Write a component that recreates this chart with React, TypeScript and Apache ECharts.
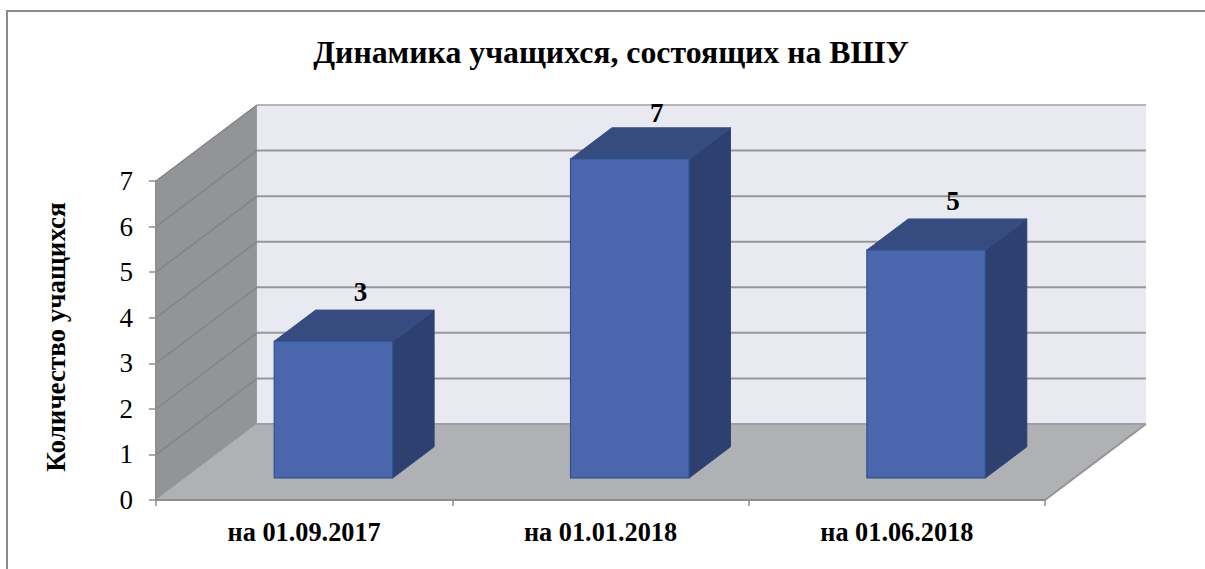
import React, { useEffect, useRef } from "react";
import * as echarts from "echarts";

const titleText = "Динамика учащихся, состоящих на ВШУ";
const yAxisTitle = "Количество учащихся";
const categories = ["на 01.09.2017", "на 01.01.2018", "на 01.06.2018"];
const values = [3, 7, 5];
const gridValues = [1, 2, 3, 4, 5, 6, 7];

const FONT = "'Liberation Serif', 'Times New Roman', serif";
// Oblique projection of the chart's depth, in pixels.
const DEPTH_X = 101;
const DEPTH_Y = 76;
const BAR_NEAR = 0.29;
const BAR_FAR = 0.7;
const BAR_WIDTH_RATIO = 0.4;

const renderWalls = (params: any, api: any) => {
  const r = params.coordSys;
  const x0 = r.x;
  const x1 = r.x + r.width;
  const top = r.y;
  const bot = r.y + r.height;
  const children: any[] = [
    {
      type: "polygon",
      shape: { points: [[x0, bot], [x0, top], [x0 + DEPTH_X, top - DEPTH_Y], [x0 + DEPTH_X, bot - DEPTH_Y]] },
      style: { fill: "#939497", stroke: "#a3a4a6", lineWidth: 1 },
    },
    {
      type: "rect",
      shape: { x: x0 + DEPTH_X, y: top - DEPTH_Y, width: r.width, height: r.height },
      style: { fill: "#E8E9F1" },
    },
    {
      type: "polygon",
      shape: { points: [[x0, bot], [x1, bot], [x1 + DEPTH_X, bot - DEPTH_Y], [x0 + DEPTH_X, bot - DEPTH_Y]] },
      style: { fill: "#B0B1B5" },
    },
    {
      type: "line",
      shape: { x1: x1, y1: bot, x2: x1 + DEPTH_X, y2: bot - DEPTH_Y },
      style: { stroke: "#949494", lineWidth: 2 },
    },
    {
      type: "line",
      shape: { x1: x0 + DEPTH_X, y1: bot - DEPTH_Y, x2: x1 + DEPTH_X, y2: bot - DEPTH_Y },
      style: { stroke: "#a0a0a2", lineWidth: 2 },
    },
  ];
  gridValues.forEach((v) => {
    const y = api.coord([0, v])[1];
    children.push({
      type: "line",
      shape: { x1: x0, y1: y, x2: x0 + DEPTH_X, y2: y - DEPTH_Y },
      style: { stroke: "#808184", lineWidth: 1.2 },
    });
    children.push({
      type: "line",
      shape: { x1: x0 + DEPTH_X, y1: y - DEPTH_Y, x2: x1 + DEPTH_X, y2: y - DEPTH_Y },
      style: { stroke: v === 7 ? "#b4b4b6" : "#97979a", lineWidth: 2 },
    });
  });
  return { type: "group", children };
};

const renderBar = (_params: any, api: any) => {
  const idx = api.value(0);
  const val = api.value(1);
  const band = api.size([1, 0])[0];
  const [cx, yTop0] = api.coord([idx, val]);
  const yBot0 = api.coord([idx, 0])[1];
  const w = band * BAR_WIDTH_RATIO;
  const nx = DEPTH_X * BAR_NEAR;
  const ny = DEPTH_Y * BAR_NEAR;
  const fx = DEPTH_X * BAR_FAR;
  const fy = DEPTH_Y * BAR_FAR;
  const l = cx - w / 2 + nx;
  const r = cx + w / 2 + nx;
  const t = yTop0 - ny;
  const b = yBot0 - ny;
  const dx = fx - nx;
  const dy = fy - ny;
  const edge = "#2F528F";
  return {
    type: "group",
    children: [
      {
        type: "polygon",
        shape: { points: [[r, t], [r + dx, t - dy], [r + dx, b - dy], [r, b]] },
        style: { fill: "#2E4070", stroke: "#2F4476", lineWidth: 1 },
      },
      {
        type: "polygon",
        shape: { points: [[l, t], [l + dx, t - dy], [r + dx, t - dy], [r, t]] },
        style: { fill: "#364C80", stroke: "#374E84", lineWidth: 1 },
      },
      {
        type: "rect",
        shape: { x: l, y: t, width: r - l, height: b - t },
        style: { fill: "#4A66AC", stroke: edge, lineWidth: 1.2 },
      },
      {
        type: "text",
        style: {
          text: String(val),
          x: cx + nx + 27,
          y: Math.max(t - dy - 18, 113),
          align: "center",
          verticalAlign: "middle",
          font: `bold 27px ${FONT}`,
          fill: "#000",
        },
      },
    ],
  };
};

export default function App() {
  const ref = useRef<HTMLDivElement>(null);
  useEffect(() => {
    const chart = echarts.init(ref.current!, undefined, { renderer: "svg" });
    const axisGray = { color: "#8e8e8e", width: 2 };
    chart.setOption({
      animation: false,
      backgroundColor: "#fff",
      title: {
        text: titleText,
        left: 606,
        top: 31,
        textAlign: "center",
        textStyle: { fontFamily: FONT, fontSize: 31.8, fontWeight: "bold", color: "#000" },
      },
      grid: { left: 156, top: 181, width: 889, height: 319, containLabel: false },
      xAxis: {
        type: "category",
        data: categories,
        z: 10,
        axisLine: { lineStyle: axisGray },
        axisTick: { show: true, length: 6, lineStyle: { color: "#8e8e8e", width: 1.5 } },
        axisLabel: { margin: 19, fontFamily: FONT, fontSize: 26.3, fontWeight: "bold", color: "#000" },
      },
      yAxis: {
        type: "value",
        min: 0,
        max: 7,
        interval: 1,
        z: 10,
        name: yAxisTitle,
        nameLocation: "middle",
        nameRotate: 90,
        nameGap: 87,
        nameTextStyle: { fontFamily: FONT, fontSize: 27, fontWeight: "bold", color: "#000", padding: [0, 0, 0, 7] },
        axisLine: { show: true, lineStyle: axisGray },
        axisTick: { show: true, length: 7, lineStyle: { color: "#8e8e8e", width: 1.5 } },
        splitLine: { show: false },
        axisLabel: { margin: 23, padding: [8, 0, 0, 0], fontFamily: FONT, fontSize: 27, color: "#000" },
      },
      graphic: [
        {
          type: "line",
          shape: { x1: 6, y1: 11, x2: 1205, y2: 11 },
          style: { stroke: "#8c8c8c", lineWidth: 2 },
          z: 20,
        },
        {
          type: "line",
          shape: { x1: 7, y1: 10, x2: 7, y2: 569 },
          style: { stroke: "#8c8c8c", lineWidth: 2 },
          z: 20,
        },
      ],
      series: [
        { type: "custom", z: 1, clip: false, silent: true, data: [0], renderItem: renderWalls },
        {
          type: "custom",
          z: 3,
          clip: false,
          silent: true,
          encode: { x: 0, y: 1 },
          data: values.map((v, i) => [i, v]),
          renderItem: renderBar,
        },
      ],
    });
    return () => chart.dispose();
  }, []);
  return <div ref={ref} style={{ position: "fixed", left: 0, top: 0, width: 1205, height: 569 }} />;
}
